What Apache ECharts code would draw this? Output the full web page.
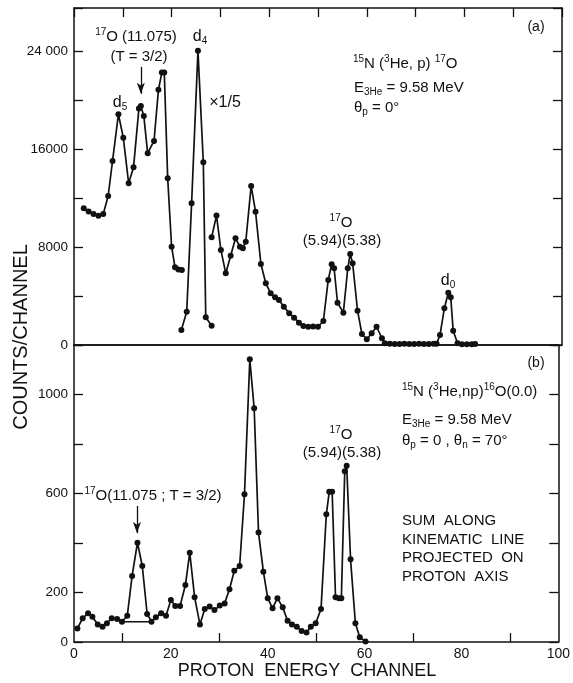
<!DOCTYPE html>
<html>
<head>
<meta charset="utf-8">
<style>
  html, body { margin: 0; padding: 0; background: #fff; }
  #chart { width: 573px; height: 683px; }
</style>
<script src="https://cdn.jsdelivr.net/npm/echarts@6/dist/echarts.min.js"></script>
</head>
<body>
<div id="chart"></div>
<script>
// ---- (a) 15N(3He,p)17O proton spectrum, theta_p = 0 deg ----
// low-energy part of the spectrum
const chanA = [2.0, 3.0, 4.0, 5.0, 6.0, 7.0, 7.9, 9.1, 10.1, 11.2, 12.2, 13.3, 13.7, 14.3, 15.1, 16.4, 17.3, 18.0, 18.5, 19.2, 20.0, 20.7, 21.4, 22.1];
const countsA = [11160, 10900, 10700, 10550, 10700, 12160, 15020, 18830, 16920, 13200, 14500, 19290, 19510, 18690, 15650, 16650, 20820, 22230, 22230, 13610, 8020, 6340, 6160, 6120];
// d4 group, plotted at one fifth of its counts
const chanD4 = [22.0, 23.1, 24.1, 25.4, 26.5, 27.0, 28.2];
const countsD4 = [1220, 2720, 11570, 24020, 14910, 2260, 1580];
// high-energy part of the spectrum
const chanC = [28.2, 29.2, 30.1, 31.1, 32.1, 33.1, 34.0, 34.6, 35.2, 36.3, 37.2, 38.3, 39.3, 40.3, 41.2, 42.0, 43.0, 44.1, 45.1, 46.1, 47.0, 48.0, 49.0, 50.0, 51.1, 52.1, 52.8, 53.3, 54.0, 55.2, 56.1, 56.6, 57.1, 58.1, 59.0, 60.0, 61.0, 62.0, 63.1, 63.7, 64.7, 65.7, 66.7, 67.7, 68.7, 69.7, 70.7, 71.7, 72.7, 73.7, 74.3, 75.0, 75.9, 76.7, 77.2, 77.7, 78.6, 79.5, 80.5, 81.5, 82.2];
const countsC = [8790, 10560, 7760, 5850, 7290, 8710, 8020, 7890, 8430, 12980, 10880, 6610, 5040, 4220, 3890, 3670, 3130, 2590, 2230, 1820, 1550, 1490, 1500, 1490, 1960, 5310, 6590, 6260, 3450, 2640, 6260, 7430, 6670, 2800, 900, 470, 960, 1490, 550, 140, 100, 90, 90, 100, 90, 90, 100, 90, 90, 100, 110, 820, 3000, 4270, 3890, 1170, 140, 60, 60, 60, 80];

// ---- (b) 15N(3He,np)16O(0.0) sum along kinematic line ----
const chanB = [0.7, 1.8, 2.9, 3.8, 4.9, 5.9, 6.8, 7.8, 8.9, 9.9, 11.0, 12.0, 13.1, 14.1, 15.1, 16.0, 16.9, 18.0, 19.0, 20.0, 20.9, 21.9, 23.0, 23.9, 24.9, 26.0, 27.0, 28.0, 29.0, 30.1, 31.1, 32.1, 33.1, 34.2, 35.2, 36.3, 37.2, 38.1, 39.1, 40.0, 41.0, 42.0, 43.1, 44.1, 45.0, 46.0, 47.0, 48.0, 48.9, 49.9, 51.0, 52.1, 52.7, 53.3, 54.0, 54.7, 55.2, 55.9, 56.3, 57.1, 58.1, 59.0, 60.2];
const countsB = [55, 96, 116, 102, 71, 62, 76, 96, 93, 82, 106, 267, 401, 307, 113, 82, 100, 116, 106, 170, 145, 145, 230, 361, 181, 71, 133, 143, 129, 147, 156, 213, 288, 307, 597, 1142, 944, 442, 284, 177, 136, 177, 140, 86, 71, 62, 44, 38, 62, 76, 133, 516, 607, 607, 181, 177, 177, 690, 712, 334, 76, 19, 2];
// background drawn under the T = 3/2 peak
const bgChan = [9.9, 16.0];
const bgCounts = [82, 82];

// arrows marking the 17O(11.075) T = 3/2 state: [channel, from, to]
const arrowTop = [13.7, 22700, 20500];
const arrowBottom = [13.0, 550, 440];

// axis ranges and tick steps
const xRange = [0, 100], xStep = 10;
const yRangeTop = [0, 27500], yStepTop = 4000;
const yRangeBottom = [0, 1200], yStepBottom = 200;
const xTickLabels = [0, 20, 40, 60, 80, 100];
const xBottomTicks = [10, 30, 50, 70, 90];
const yTickLabelsTop = { 0: '0', 8000: '8000', 16000: '16000', 24000: '24 000' };
const yTickLabelsBottom = [0, 200, 600, 1000];

const INK = '#111';
const FF = '"Liberation Sans", Arial, sans-serif';

const pairs = (xs, ys) => xs.map((x, i) => [x, ys[i]]);

function spectrum(name, xs, ys, yAxisIndex, xAxisIndex, extra) {
  return Object.assign({
    name, type: 'line', xAxisIndex, yAxisIndex,
    data: pairs(xs, ys),
    symbol: 'circle', symbolSize: 6, showSymbol: true,
    lineStyle: { color: INK, width: 1.7 },
    itemStyle: { color: INK },
    silent: true, animation: false, z: 3
  }, extra || {});
}

function arrow(a) {
  return {
    silent: true, animation: false,
    symbol: ['none', 'arrow'], symbolSize: [6, 11],
    lineStyle: { color: INK, width: 1.3, type: 'solid' },
    label: { show: false },
    data: [[{ coord: [a[0], a[1]] }, { coord: [a[0], a[2]] }]]
  };
}

const frameLine = { show: true, onZero: false, lineStyle: { color: INK, width: 1.5 } };
const inTick = { show: true, inside: true, length: 9, lineStyle: { color: INK, width: 1.3 } };
const noTick = { show: false };
const noLabel = { show: false };
const tickFont = { fontSize: 13.5, fontFamily: FF, color: INK };

function xAx(gridIndex, position, tick, withLabels) {
  return {
    type: 'value', gridIndex, position, min: xRange[0], max: xRange[1], interval: xStep,
    axisLine: frameLine, axisTick: tick,
    axisLabel: withLabels ? Object.assign({
      margin: 5,
      formatter: v => xTickLabels.indexOf(v) >= 0 ? String(v) : ''
    }, tickFont, { fontSize: 14 }) : noLabel,
    splitLine: { show: false }
  };
}

function yAx(gridIndex, position, range, step, formatter) {
  return {
    type: 'value', gridIndex, position, min: range[0], max: range[1], interval: step,
    axisLine: frameLine, axisTick: inTick,
    axisLabel: formatter ? Object.assign({ margin: 6, formatter }, tickFont) : noLabel,
    splitLine: { show: false }
  };
}

// rich text styles for nuclear notation
const rich = {
  sup: { fontSize: 10, fontFamily: FF, lineHeight: 10, verticalAlign: 'top', fill: INK },
  sub: { fontSize: 10, fontFamily: FF, lineHeight: 10, verticalAlign: 'bottom', fill: INK }
};

function txt(x, y, text, align, size, extra) {
  return Object.assign({
    type: 'text', x, y, silent: true, z: 10,
    style: {
      text, rich, fill: INK, fontSize: size || 15, fontFamily: FF,
      lineHeight: 19, align: align || 'center', verticalAlign: 'middle'
    }
  }, extra || {});
}

const annotations = [
  // panel (a)
  txt(136, 37, '{sup|17}O (11.075)'),
  txt(139, 57, '(T = 3/2)'),
  txt(120, 103, 'd{sub|5}', 'center', 16),
  txt(200, 37, 'd{sub|4}', 'center', 16),
  txt(225, 103, '×1/5', 'center', 16),
  txt(536, 27, '(a)', 'center', 14),
  txt(353, 64, '{sup|15}N ({sup|3}He, p) {sup|17}O', 'left'),
  txt(354, 88, 'E{sub|3He} = 9.58 MeV', 'left'),
  txt(354, 108, 'θ{sub|p} = 0°', 'left'),
  txt(341, 223, '{sup|17}O'),
  txt(342, 241, '(5.94)(5.38)'),
  txt(448, 281, 'd{sub|0}', 'center', 16),
  // panel (b)
  txt(536, 363, '(b)', 'center', 14),
  txt(402, 392, '{sup|15}N ({sup|3}He,np){sup|16}O(0.0)', 'left'),
  txt(402, 420, 'E{sub|3He} = 9.58 MeV', 'left'),
  txt(402, 441, 'θ{sub|p} = 0 , θ{sub|n} = 70°', 'left'),
  txt(341, 435, '{sup|17}O'),
  txt(342, 453, '(5.94)(5.38)'),
  txt(153, 496, '{sup|17}O(11.075 ; T = 3/2)'),
  txt(402, 521, 'SUM  ALONG', 'left', 15),
  txt(402, 540, 'KINEMATIC  LINE', 'left', 15),
  txt(402, 558, 'PROJECTED  ON', 'left', 15),
  txt(402, 577, 'PROTON  AXIS', 'left', 15),
  // axis titles
  txt(21, 337, 'COUNTS/CHANNEL', 'center', 20, { rotation: Math.PI / 2 }),
  txt(307, 671, 'PROTON  ENERGY  CHANNEL', 'center', 18)
];

const chart = echarts.init(document.getElementById('chart'), null, { renderer: 'canvas' });
chart.setOption({
  animation: false,
  backgroundColor: '#fff',
  grid: [
    { left: 74, right: 11, top: 8, height: 337 },
    { left: 74, right: 11, top: 345, height: 297 }
  ],
  xAxis: [
    xAx(0, 'bottom', noTick, false),
    xAx(0, 'top', inTick, false),
    xAx(1, 'bottom', Object.assign({}, inTick, { customValues: xBottomTicks }), true),
    xAx(1, 'top', noTick, false)
  ],
  yAxis: [
    yAx(0, 'left', yRangeTop, yStepTop, v => (v in yTickLabelsTop ? yTickLabelsTop[v] : '')),
    yAx(0, 'right', yRangeTop, yStepTop, null),
    yAx(1, 'left', yRangeBottom, yStepBottom, v => yTickLabelsBottom.indexOf(v) >= 0 ? String(v) : ''),
    yAx(1, 'right', yRangeBottom, yStepBottom, null)
  ],
  series: [
    spectrum('a-low', chanA, countsA, 0, 0, { markLine: arrow(arrowTop) }),
    spectrum('a-d4', chanD4, countsD4, 0, 0),
    spectrum('a-high', chanC, countsC, 0, 0),
    spectrum('b', chanB, countsB, 2, 2, { markLine: arrow(arrowBottom) }),
    spectrum('b-background', bgChan, bgCounts, 2, 2, { showSymbol: false, symbol: 'none', lineStyle: { color: INK, width: 1.4 } })
  ],
  graphic: annotations
});
</script>
</body>
</html>
